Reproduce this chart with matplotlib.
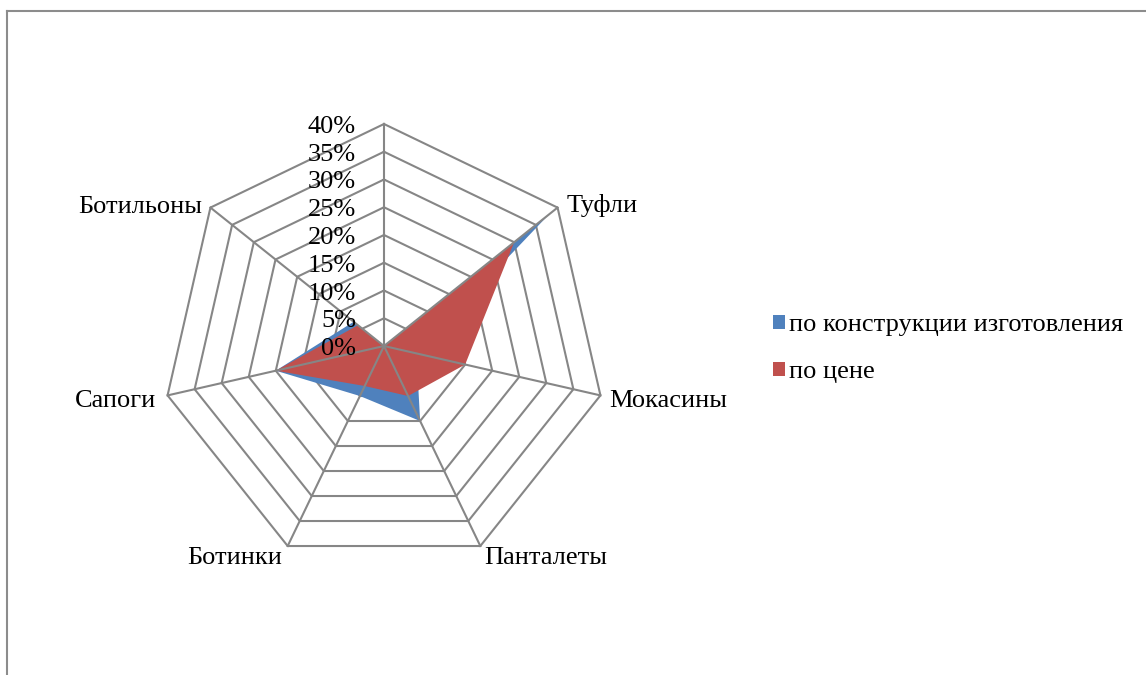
import numpy as np
import matplotlib
matplotlib.use("Agg")
import matplotlib.pyplot as plt
from matplotlib.lines import Line2D
from matplotlib.patches import Patch

# ---- data ----
categories = ["", "Туфли", "Мокасины", "Панталеты", "Ботинки", "Сапоги", "Ботильоны"]
construction = [0, 38, 6, 15, 10, 20, 7]   # по конструкции изготовления, %
price = [0, 30, 15, 10, 8, 20, 6]          # по цене, %
tick_levels = [0, 5, 10, 15, 20, 25, 30, 35, 40]
series_names = ["по конструкции изготовления", "по цене"]
series_colors = ["#4F81BD", "#C0504D"]

W, H = 1146, 675
fig = plt.figure(figsize=(W / 100, H / 100), dpi=100)
fig.patch.set_facecolor("white")

FONT = "Liberation Serif"
FS = 19
GRID = "#868686"

# polar axes: centre (384, 346) px, radius 222 px
cx, cy, R = 384, 346, 222
ax = fig.add_axes([(cx - R) / W, (H - cy - R) / H, 2 * R / W, 2 * R / H], projection="polar")
ax.set_theta_zero_location("N")
ax.set_theta_direction(-1)
ax.set_ylim(0, tick_levels[-1] / 100)
ax.grid(False)
ax.set_xticks([])
ax.set_yticks([])
ax.spines["polar"].set_visible(False)
ax.patch.set_visible(False)

n = len(categories)
theta = np.linspace(0, 2 * np.pi, n, endpoint=False)
theta_c = np.append(theta, theta[0])

# heptagon rings (under the fills)
for lv in tick_levels[1:]:
    ax.plot(theta_c, [lv / 100] * len(theta_c), color=GRID, lw=1.5, zorder=0.5, clip_on=False)

# filled series
for vals, col in zip([construction, price], series_colors):
    v = np.array(vals + [vals[0]]) / 100
    ax.fill(theta_c, v, color=col, zorder=1, linewidth=0)

# spokes (over the fills)
for t in theta:
    ax.plot([t, t], [0, tick_levels[-1] / 100], color=GRID, lw=1.5, zorder=3, clip_on=False)

# radial tick labels
for lv in tick_levels:
    ax.annotate(f"{lv}%", xy=(0, lv / 100), xytext=(-28, -9), textcoords="offset pixels",
                ha="right", va="baseline", fontsize=FS, family=FONT, zorder=5,
                annotation_clip=False)

# category labels
offsets = [(0, 8, "center"), (9, -4, "left"), (9, -12, "left"), (4, -18, "left"),
           (-6, -18, "right"), (-11, -12, "right"), (-8, -5, "right")]
for t, lab, (dx, dy, ha) in zip(theta, categories, offsets):
    if lab:
        ax.annotate(lab, xy=(t, tick_levels[-1] / 100), xytext=(dx, dy), textcoords="offset pixels",
                    ha=ha, va="baseline", fontsize=FS, family=FONT, annotation_clip=False)

# legend
handles = [Patch(facecolor=c, edgecolor="none") for c in series_colors]
fig.legend(handles, series_names, loc="upper left", bbox_to_anchor=(773 / W, 1 - 314 / H),
           frameon=False, prop={"family": FONT, "size": FS}, handlelength=0.45,
           handleheight=0.45, handletextpad=0.15, labelspacing=0.95, borderaxespad=0,
           borderpad=0)

# outer frame (top and left edges visible)
fig.add_artist(Line2D([7 / W, 7 / W], [0, 1 - 10.5 / H], transform=fig.transFigure,
                      color="#8c8c8c", lw=1.5))
fig.add_artist(Line2D([7 / W, 1], [1 - 10.5 / H, 1 - 10.5 / H], transform=fig.transFigure,
                      color="#8c8c8c", lw=1.5))

fig.savefig("out.png", dpi=100, facecolor="white")
